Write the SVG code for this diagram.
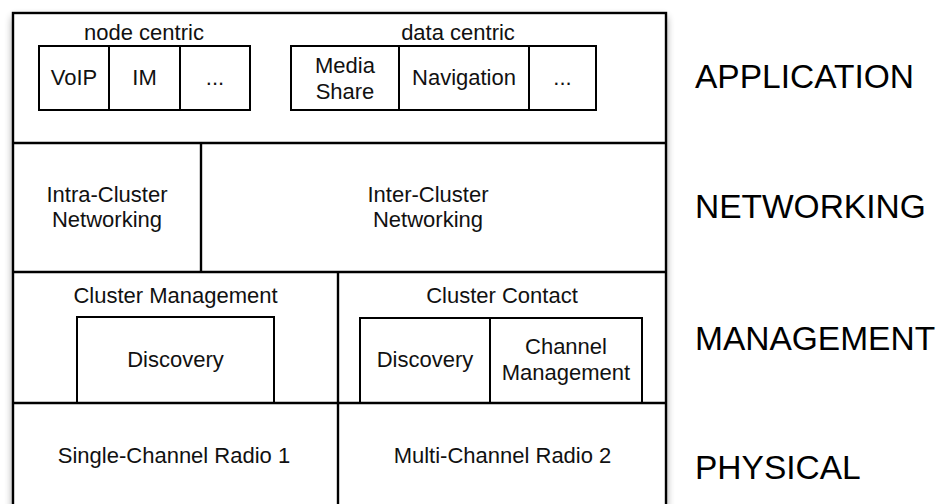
<svg xmlns="http://www.w3.org/2000/svg" width="939" height="504" viewBox="0 0 939 504">
  <defs>
    <filter id="shadow" x="-10%" y="-10%" width="120%" height="130%">
      <feGaussianBlur stdDeviation="4"/>
    </filter>
    <style>
      .frame { fill: #ffffff; stroke: #000000; stroke-width: 2.4; }
      .box { fill: none; stroke: #000000; stroke-width: 2; }
      .line { stroke: #000000; stroke-width: 2.4; fill: none; }
      text { font-family: "Liberation Sans", Arial, Helvetica, sans-serif; fill: #111111; text-anchor: middle; }
      .lbl { font-size: 22px; }
      .layer { font-size: 33.5px; text-anchor: start; fill: #000000; }
    </style>
  </defs>

  <rect width="939" height="504" fill="#ffffff"/>

  <!-- soft shadow behind the stack -->
  <rect x="13" y="17" width="653" height="500" fill="#000000" opacity="0.45" filter="url(#shadow)"/>

  <!-- outer frame of the protocol stack -->
  <rect class="frame" x="13" y="13" width="653" height="500"/>

  <!-- row and column dividers -->
  <g id="connectors">
    <line class="line" x1="13" y1="143" x2="666" y2="143"/>
    <line class="line" x1="13" y1="272" x2="666" y2="272"/>
    <line class="line" x1="13" y1="403" x2="666" y2="403"/>
    <line class="line" x1="201" y1="143" x2="201" y2="272"/>
    <line class="line" x1="338" y1="272" x2="338" y2="513"/>
  </g>

  <!-- application layer -->
  <g id="node-centric">
    <text class="lbl" x="144" y="40">node centric</text>
    <rect class="box" x="39" y="46" width="211" height="64"/>
    <line class="box" x1="109" y1="46" x2="109" y2="110"/>
    <line class="box" x1="180" y1="46" x2="180" y2="110"/>
    <text class="lbl" x="74" y="85">VoIP</text>
    <text class="lbl" x="144.5" y="85">IM</text>
    <text class="lbl" x="215" y="85">...</text>
  </g>

  <g id="data-centric">
    <text class="lbl" x="458" y="40">data centric</text>
    <rect class="box" x="291" y="46" width="305" height="64"/>
    <line class="box" x1="399" y1="46" x2="399" y2="110"/>
    <line class="box" x1="529" y1="46" x2="529" y2="110"/>
    <text class="lbl" x="345" y="73">Media</text>
    <text class="lbl" x="345" y="98.5">Share</text>
    <text class="lbl" x="464" y="85">Navigation</text>
    <text class="lbl" x="562.5" y="85">...</text>
  </g>

  <!-- networking layer -->
  <g id="intra-cluster">
    <text class="lbl" x="107" y="202">Intra-Cluster</text>
    <text class="lbl" x="107" y="227">Networking</text>
  </g>
  <g id="inter-cluster">
    <text class="lbl" x="428" y="202">Inter-Cluster</text>
    <text class="lbl" x="428" y="227">Networking</text>
  </g>

  <!-- management layer -->
  <g id="cluster-management">
    <text class="lbl" x="175.5" y="302.5">Cluster Management</text>
    <rect class="box" x="77" y="317" width="197" height="86"/>
    <text class="lbl" x="175.5" y="366.5">Discovery</text>
  </g>
  <g id="cluster-contact">
    <text class="lbl" x="502" y="302.5">Cluster Contact</text>
    <rect class="box" x="360" y="318" width="282" height="85"/>
    <line class="box" x1="490" y1="318" x2="490" y2="403"/>
    <text class="lbl" x="425" y="366.5">Discovery</text>
    <text class="lbl" x="566" y="354">Channel</text>
    <text class="lbl" x="566" y="379.5">Management</text>
  </g>

  <!-- physical layer -->
  <g id="radio-1">
    <text class="lbl" x="174" y="462.5">Single-Channel Radio 1</text>
  </g>
  <g id="radio-2">
    <text class="lbl" x="502.5" y="462.5">Multi-Channel Radio 2</text>
  </g>

  <!-- layer names -->
  <g id="layer-names">
    <text class="layer" x="695" y="88">APPLICATION</text>
    <text class="layer" x="695" y="217.5">NETWORKING</text>
    <text class="layer" x="695" y="350">MANAGEMENT</text>
    <text class="layer" x="695" y="478.5">PHYSICAL</text>
  </g>
</svg>
